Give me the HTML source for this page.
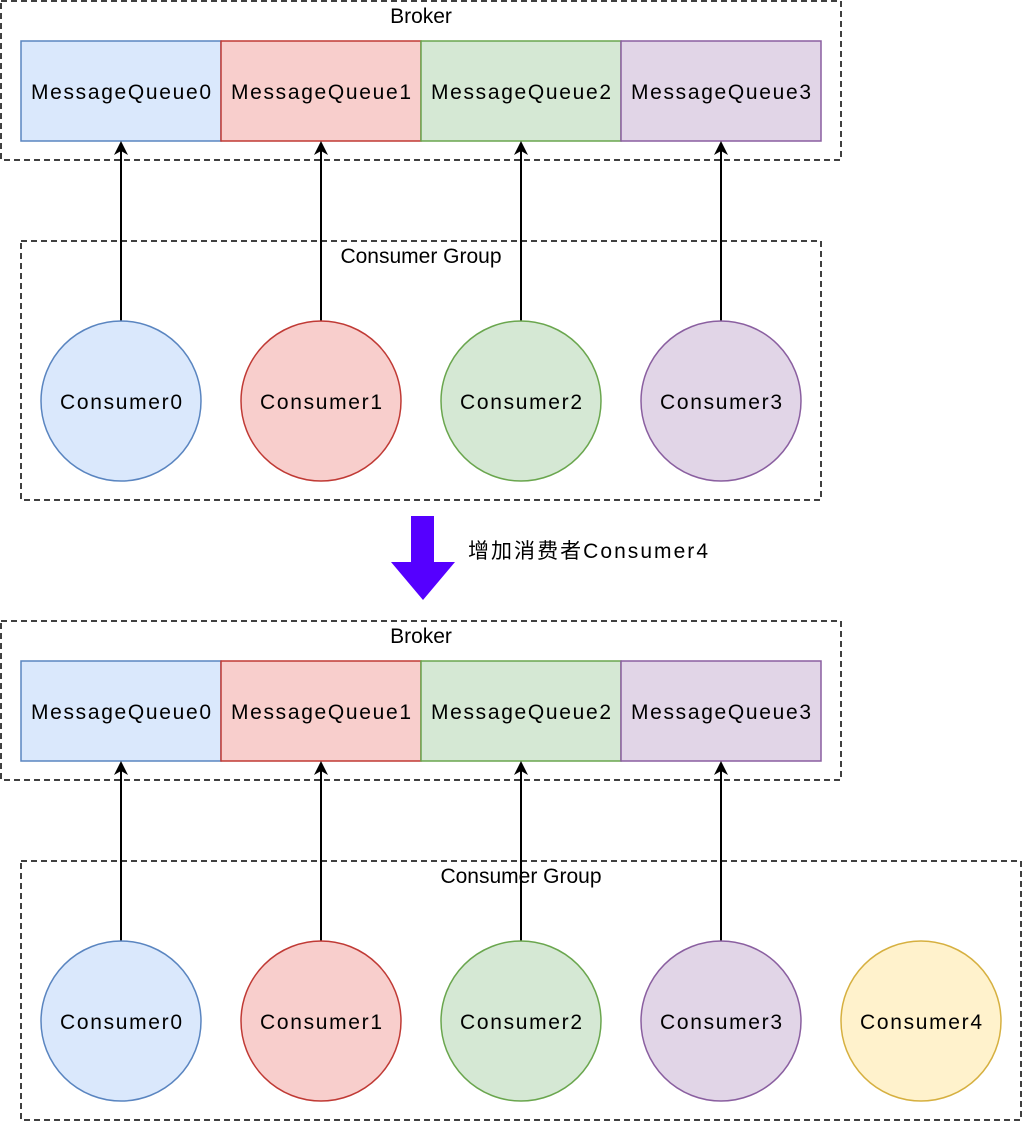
<!DOCTYPE html>
<html><head><meta charset="utf-8"><style>html,body{margin:0;padding:0;background:#fff}svg{display:block}text{font-family:"Liberation Sans","Noto Sans CJK SC",sans-serif;font-size:21px;fill:#000}</style></head><body>
<svg width="1022" height="1122" viewBox="0 0 1022 1122" xmlns="http://www.w3.org/2000/svg">
<defs><marker id="a" markerWidth="14" markerHeight="16" refX="12" refY="7" orient="auto" markerUnits="userSpaceOnUse"><path d="M0,0 L14,7 L0,14 L4,7 z" fill="#000"/></marker></defs>
<g id="top">
<rect x="1" y="1" width="840" height="159" fill="none" stroke="#000" stroke-width="1.5" stroke-dasharray="6,4"/>
<text x="421" y="23" text-anchor="middle">Broker</text>
<rect x="21" y="41" width="200" height="100" fill="#dae8fc" stroke="#5a85c0" stroke-width="1.5"/>
<rect x="221" y="41" width="200" height="100" fill="#f8cecc" stroke="#c03a35" stroke-width="1.5"/>
<rect x="421" y="41" width="200" height="100" fill="#d5e8d4" stroke="#6aa64e" stroke-width="1.5"/>
<rect x="621" y="41" width="200" height="100" fill="#e1d5e7" stroke="#8a5fa0" stroke-width="1.5"/>
<text x="121" y="99" text-anchor="middle" textLength="180">MessageQueue0</text>
<text x="321" y="99" text-anchor="middle" textLength="180">MessageQueue1</text>
<text x="521" y="99" text-anchor="middle" textLength="180">MessageQueue2</text>
<text x="721" y="99" text-anchor="middle" textLength="180">MessageQueue3</text>
<g stroke="#000" stroke-width="2" marker-end="url(#a)">
<line x1="121" y1="321" x2="121" y2="143"/><line x1="321" y1="321" x2="321" y2="143"/><line x1="521" y1="321" x2="521" y2="143"/><line x1="721" y1="321" x2="721" y2="143"/>
</g>
</g>
<rect x="21" y="241" width="800" height="259" fill="none" stroke="#000" stroke-width="1.5" stroke-dasharray="6,4"/>
<text x="421" y="263" text-anchor="middle">Consumer Group</text>
<circle cx="121" cy="401" r="80" fill="#dae8fc" stroke="#5a85c0" stroke-width="1.5"/>
<circle cx="321" cy="401" r="80" fill="#f8cecc" stroke="#c03a35" stroke-width="1.5"/>
<circle cx="521" cy="401" r="80" fill="#d5e8d4" stroke="#6aa64e" stroke-width="1.5"/>
<circle cx="721" cy="401" r="80" fill="#e1d5e7" stroke="#8a5fa0" stroke-width="1.5"/>
<text x="121" y="409" text-anchor="middle" textLength="122">Consumer0</text>
<text x="321" y="409" text-anchor="middle" textLength="122">Consumer1</text>
<text x="521" y="409" text-anchor="middle" textLength="122">Consumer2</text>
<text x="721" y="409" text-anchor="middle" textLength="122">Consumer3</text>
<path d="M411,516 L434,516 L434,562 L455,562 L423,600 L391,562 L411,562 z" fill="#5500ff"/>
<text x="468" y="558" textLength="240">增加消费者Consumer4</text>
<use href="#top" y="620"/>
<rect x="21" y="861" width="1000" height="259" fill="none" stroke="#000" stroke-width="1.5" stroke-dasharray="6,4"/>
<text x="521" y="883" text-anchor="middle">Consumer Group</text>
<circle cx="121" cy="1021" r="80" fill="#dae8fc" stroke="#5a85c0" stroke-width="1.5"/>
<circle cx="321" cy="1021" r="80" fill="#f8cecc" stroke="#c03a35" stroke-width="1.5"/>
<circle cx="521" cy="1021" r="80" fill="#d5e8d4" stroke="#6aa64e" stroke-width="1.5"/>
<circle cx="721" cy="1021" r="80" fill="#e1d5e7" stroke="#8a5fa0" stroke-width="1.5"/>
<circle cx="921" cy="1021" r="80" fill="#fff2cc" stroke="#d6b040" stroke-width="1.5"/>
<text x="121" y="1029" text-anchor="middle" textLength="122">Consumer0</text>
<text x="321" y="1029" text-anchor="middle" textLength="122">Consumer1</text>
<text x="521" y="1029" text-anchor="middle" textLength="122">Consumer2</text>
<text x="721" y="1029" text-anchor="middle" textLength="122">Consumer3</text>
<text x="921" y="1029" text-anchor="middle" textLength="122">Consumer4</text>
</svg>
</body></html>
